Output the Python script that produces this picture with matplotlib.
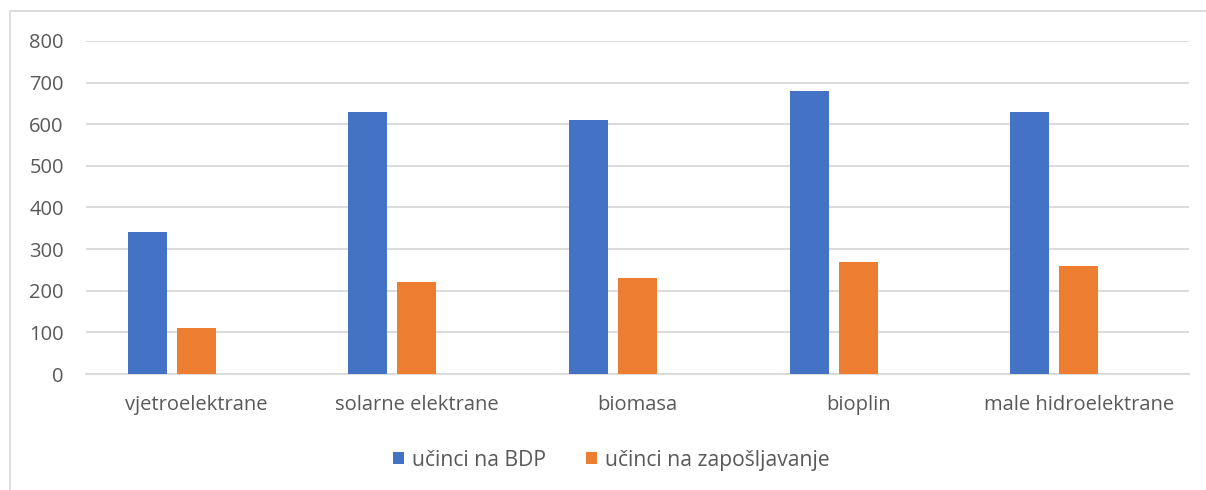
import matplotlib.pyplot as plt
import numpy as np
from matplotlib.patches import Rectangle

categories = ['vjetroelektrane', 'solarne elektrane', 'biomasa', 'bioplin', 'male hidroelektrane']
bdp = [340, 630, 610, 680, 630]
zaposljavanje = [110, 220, 230, 270, 260]
series_names = ['učinci na BDP', 'učinci na zapošljavanje']
colors = ['#4472C4', '#ED7D31']
yticks = [0, 100, 200, 300, 400, 500, 600, 700, 800]

plt.rcParams['font.family'] = ['Open Sans', 'DejaVu Sans']
text_color = '#595959'
grid_color = '#d9d9d9'

fig = plt.figure(figsize=(12.06, 4.9), dpi=100)
ax = fig.add_axes([86 / 1206, 1 - 374 / 490, (1189 - 86) / 1206, (374 - 41) / 490])

x = np.arange(len(categories))
width = 0.177
step = 0.222
# excel layout: blue left of the category centre, orange on it
ax.bar(x - step, bdp, width, color=colors[0], label=series_names[0], zorder=3)
ax.bar(x, zaposljavanje, width, color=colors[1], label=series_names[1], zorder=3)

ax.set_xlim(-0.5, len(categories) - 0.5)
ax.set_ylim(0, 800)
ax.set_yticks(yticks)
ax.set_xticks(x)
ax.set_xticklabels(categories)
ax.yaxis.grid(True, color=grid_color, linewidth=1.3, zorder=0)
ax.set_axisbelow(True)
for s in ['top', 'right', 'left']:
    ax.spines[s].set_visible(False)
ax.spines['bottom'].set_color(grid_color)
ax.spines['bottom'].set_linewidth(1.3)
ax.tick_params(axis='both', length=0, labelsize=14.5, colors=text_color)
ax.tick_params(axis='y', pad=16)
ax.tick_params(axis='x', pad=15)

fig.legend(loc='center', bbox_to_anchor=(611 / 1206, 1 - 460 / 490), ncol=2,
           frameon=False, fontsize=15.2, handlelength=0.55, handleheight=0.55,
           handletextpad=0.35, columnspacing=1.9, labelcolor=text_color)

fig.patches.append(Rectangle((10 / 1206, -0.05), 1.1, 1 - 11 / 490 + 0.05,
                             transform=fig.transFigure, fill=False,
                             edgecolor=grid_color, linewidth=1.3))

fig.savefig('out.png', dpi=100)
